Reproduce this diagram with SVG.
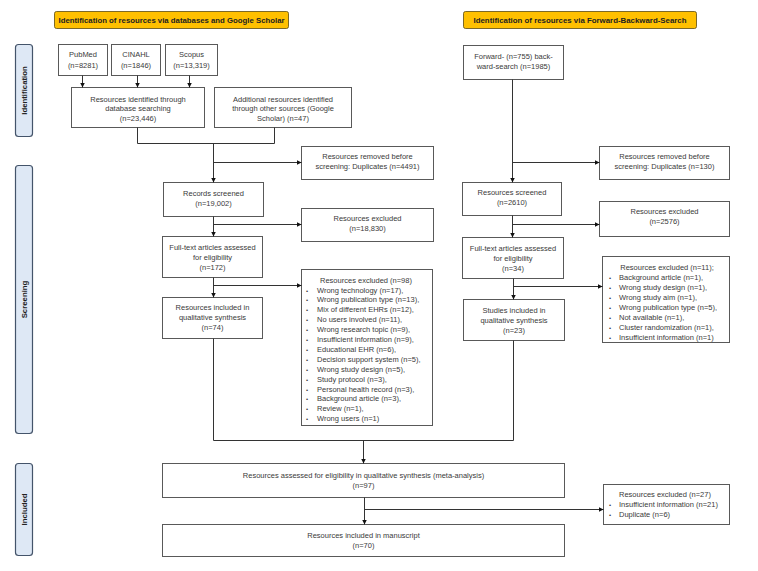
<svg xmlns="http://www.w3.org/2000/svg" width="758" height="571" viewBox="0 0 758 571">
<style>
text{font-family:"Liberation Sans",Arial,sans-serif;font-size:7.5px;fill:#3a3a3a;}
.c{text-anchor:middle;}
.hdr{fill:#FFC000;stroke:#5a4a10;stroke-width:0.8;}
.hdrt{font-weight:bold;font-size:7.9px;fill:#222;text-anchor:middle;}
.side{fill:#DEE8F5;stroke:#44546A;stroke-width:1.2;}
.sidet{font-weight:bold;font-size:7.8px;fill:#222;text-anchor:middle;}
.box{fill:#fff;stroke:#595959;stroke-width:1;}
.ln{fill:none;stroke:#333;stroke-width:1;}
.ar{fill:none;stroke:#333;stroke-width:1;marker-end:url(#ah);}
.b{font-size:6px;}
</style>
<defs>
<marker id="ah" viewBox="0 0 6 6" refX="6" refY="3" markerWidth="5" markerHeight="5" markerUnits="userSpaceOnUse" orient="auto">
<path d="M0,0 L6,3 L0,6 z" fill="#111"/>
</marker>
</defs>
<rect width="758" height="571" fill="#fff"/>

<g id="header-left"><rect class="hdr" x="54.5" y="11.5" width="234" height="17" rx="2"/><text class="hdrt" x="171.5" y="23" textLength="226" lengthAdjust="spacingAndGlyphs">Identification of resources via databases and Google Scholar</text></g>
<g id="header-right"><rect class="hdr" x="463.5" y="11.5" width="233" height="17" rx="2"/><text class="hdrt" x="580" y="23" textLength="213" lengthAdjust="spacingAndGlyphs">Identification of resources via Forward-Backward-Search</text></g>

<g id="side-identification"><rect class="side" x="15.5" y="44.5" width="17" height="92" rx="3"/><text class="sidet" transform="translate(26.8,90.5) rotate(-90)">Identification</text></g>
<g id="side-screening"><rect class="side" x="15.5" y="165.5" width="17" height="268" rx="3"/><text class="sidet" transform="translate(26.8,299.5) rotate(-90)">Screening</text></g>
<g id="side-included"><rect class="side" x="15.5" y="463.5" width="17" height="92" rx="3"/><text class="sidet" transform="translate(26.8,509.5) rotate(-90)">Included</text></g>

<g id="pubmed"><rect class="box" x="58.5" y="44.5" width="49" height="31"/><text class="c" x="83" y="57">PubMed</text><text class="c" x="83" y="68">(n=8281)</text></g>
<g id="cinahl"><rect class="box" x="111.5" y="44.5" width="49" height="31"/><text class="c" x="136" y="57">CINAHL</text><text class="c" x="136" y="68">(n=1846)</text></g>
<g id="scopus"><rect class="box" x="165.5" y="44.5" width="52" height="31"/><text class="c" x="191.5" y="57">Scopus</text><text class="c" x="191.5" y="68">(n=13,319)</text></g>
<g id="db-search"><rect class="box" x="71.5" y="87.5" width="133" height="40"/><text class="c" x="138" y="101.5">Resources identified through</text><text class="c" x="138" y="111">database searching</text><text class="c" x="138" y="121">(n=23,446)</text></g>
<g id="other-sources"><rect class="box" x="214.5" y="87.5" width="137" height="40"/><text class="c" x="283" y="101.5">Additional resources identified</text><text class="c" x="283" y="111">through other sources (Google</text><text class="c" x="283" y="121">Scholar) (n=47)</text></g>
<g id="fwd-bwd"><rect class="box" x="463.5" y="45.5" width="100" height="34"/><text class="c" x="513.5" y="58.5">Forward- (n=755) back-</text><text class="c" x="513.5" y="68.5">ward-search (n=1985)</text></g>

<g id="records-screened"><rect class="box" x="163.5" y="182.5" width="100" height="34"/><text class="c" x="213.5" y="195.5">Records screened</text><text class="c" x="213.5" y="205.5">(n=19,002)</text></g>
<g id="removed-left"><rect class="box" x="301.5" y="146.5" width="132" height="33"/><text class="c" x="367.5" y="158.5">Resources removed before</text><text class="c" x="367.5" y="168.5">screening: Duplicates (n=4491)</text></g>
<g id="excluded-left"><rect class="box" x="301.5" y="208.5" width="132" height="33"/><text class="c" x="367.5" y="220.5">Resources excluded</text><text class="c" x="367.5" y="231">(n=18,830)</text></g>
<g id="fulltext-left"><rect class="box" x="162.5" y="236.5" width="100" height="41"/><text class="c" x="212.5" y="249.5">Full-text articles assessed</text><text class="c" x="212.5" y="259.5">for eligibility</text><text class="c" x="212.5" y="269.5">(n=172)</text></g>
<g id="included-left"><rect class="box" x="162.5" y="297.5" width="100" height="41"/><text class="c" x="212.5" y="309.5">Resources included in</text><text class="c" x="212.5" y="319.5">qualitative synthesis</text><text class="c" x="212.5" y="329.5">(n=74)</text></g>
<g id="excluded-list-left"><rect class="box" x="301.5" y="269.5" width="131" height="156"/>
<text class="c" x="366" y="282.5">Resources excluded (n=98)</text>
<text class="b" x="306" y="292.5">•</text><text x="317" y="292.5">Wrong technology (n=17),</text>
<text class="b" x="306" y="302.4">•</text><text x="317" y="302.4">Wrong publication type (n=13),</text>
<text class="b" x="306" y="312.3">•</text><text x="317" y="312.3">Mix of different EHRs (n=12),</text>
<text class="b" x="306" y="322.2">•</text><text x="317" y="322.2">No users involved (n=11),</text>
<text class="b" x="306" y="332.1">•</text><text x="317" y="332.1">Wrong research topic (n=9),</text>
<text class="b" x="306" y="342">•</text><text x="317" y="342">Insufficient information (n=9),</text>
<text class="b" x="306" y="351.9">•</text><text x="317" y="351.9">Educational EHR (n=6),</text>
<text class="b" x="306" y="361.8">•</text><text x="317" y="361.8">Decision support system (n=5),</text>
<text class="b" x="306" y="371.7">•</text><text x="317" y="371.7">Wrong study design (n=5),</text>
<text class="b" x="306" y="381.6">•</text><text x="317" y="381.6">Study protocol (n=3),</text>
<text class="b" x="306" y="391.5">•</text><text x="317" y="391.5">Personal health record (n=3),</text>
<text class="b" x="306" y="401.4">•</text><text x="317" y="401.4">Background article (n=3),</text>
<text class="b" x="306" y="411.3">•</text><text x="317" y="411.3">Review (n=1),</text>
<text class="b" x="306" y="421.2">•</text><text x="317" y="421.2">Wrong users (n=1)</text>
</g>

<g id="resources-screened"><rect class="box" x="462.5" y="182.5" width="99" height="33"/><text class="c" x="512" y="194.5">Resources screened</text><text class="c" x="512" y="205">(n=2610)</text></g>
<g id="removed-right"><rect class="box" x="599.5" y="146.5" width="130" height="33"/><text class="c" x="664.5" y="158.5">Resources removed before</text><text class="c" x="664.5" y="168.5">screening: Duplicates (n=130)</text></g>
<g id="excluded-right"><rect class="box" x="599.5" y="201.5" width="130" height="35"/><text class="c" x="664.5" y="213.5">Resources excluded</text><text class="c" x="664.5" y="223.5">(n=2576)</text></g>
<g id="fulltext-right"><rect class="box" x="462.5" y="237.5" width="101" height="41"/><text class="c" x="513" y="250.5">Full-text articles assessed</text><text class="c" x="513" y="260.5">for eligibility</text><text class="c" x="513" y="270.5">(n=34)</text></g>
<g id="studies-included-right"><rect class="box" x="463.5" y="299.5" width="101" height="41"/><text class="c" x="514" y="312.5">Studies included in</text><text class="c" x="514" y="322.5">qualitative synthesis</text><text class="c" x="514" y="332.5">(n=23)</text></g>
<g id="excluded-list-right"><rect class="box" x="602.5" y="256.5" width="127" height="86"/>
<text class="c" x="667" y="269.5">Resources excluded (n=11);</text>
<text class="b" x="609" y="279.5">•</text><text x="619" y="279.5">Background article (n=1),</text>
<text class="b" x="609" y="289.5">•</text><text x="619" y="289.5">Wrong study design (n=1),</text>
<text class="b" x="609" y="299.5">•</text><text x="619" y="299.5">Wrong study aim (n=1),</text>
<text class="b" x="609" y="309.5">•</text><text x="619" y="309.5">Wrong publication type (n=5),</text>
<text class="b" x="609" y="319.5">•</text><text x="619" y="319.5">Not available (n=1),</text>
<text class="b" x="609" y="329.5">•</text><text x="619" y="329.5">Cluster randomization (n=1),</text>
<text class="b" x="609" y="339.5">•</text><text x="619" y="339.5">Insufficient information (n=1)</text>
</g>

<g id="assessed-meta"><rect class="box" x="162.5" y="463.5" width="402" height="34"/><text class="c" x="363.5" y="477.5">Resources assessed for eligibility in qualitative synthesis (meta-analysis)</text><text class="c" x="363.5" y="487.5">(n=97)</text></g>
<g id="included-manuscript"><rect class="box" x="162.5" y="524.5" width="402" height="32"/><text class="c" x="363.5" y="537.5">Resources included in manuscript</text><text class="c" x="363.5" y="547.5">(n=70)</text></g>
<g id="excluded-final"><rect class="box" x="603.5" y="484.5" width="126" height="40"/>
<text x="619" y="496.5">Resources excluded (n=27)</text>
<text class="b" x="609" y="506.5">•</text><text x="619" y="506.5">Insufficient information (n=21)</text>
<text class="b" x="609" y="516.5">•</text><text x="619" y="516.5">Duplicate (n=6)</text>
</g>

<g id="connectors">
<line class="ar" x1="82.5" y1="75.5" x2="82.5" y2="87.5"/>
<line class="ar" x1="137.5" y1="75.5" x2="137.5" y2="87.5"/>
<line class="ar" x1="189.5" y1="75.5" x2="189.5" y2="87.5"/>
<polyline class="ln" points="137.5,127.5 137.5,143.5 274.5,143.5 274.5,127.5"/>
<line class="ar" x1="213.5" y1="143.5" x2="213.5" y2="182.5"/>
<line class="ar" x1="213.5" y1="162.5" x2="301.5" y2="162.5"/>
<line class="ar" x1="213.5" y1="216.5" x2="213.5" y2="236.5"/>
<line class="ar" x1="213.5" y1="224.5" x2="301.5" y2="224.5"/>
<line class="ar" x1="213.5" y1="277.5" x2="213.5" y2="297.5"/>
<line class="ar" x1="213.5" y1="285.5" x2="301.5" y2="285.5"/>
<polyline class="ln" points="213.5,338.5 213.5,440.5 513.5,440.5 513.5,340.5"/>
<line class="ar" x1="363.5" y1="440.5" x2="363.5" y2="463.5"/>
<line class="ar" x1="364.5" y1="497.5" x2="364.5" y2="524.5"/>
<line class="ar" x1="364.5" y1="509.5" x2="603.5" y2="509.5"/>
<line class="ar" x1="512.5" y1="79.5" x2="512.5" y2="182.5"/>
<line class="ar" x1="512.5" y1="162.5" x2="599.5" y2="162.5"/>
<line class="ar" x1="512.5" y1="215.5" x2="512.5" y2="237.5"/>
<line class="ar" x1="512.5" y1="224.5" x2="599.5" y2="224.5"/>
<line class="ar" x1="513.5" y1="278.5" x2="513.5" y2="299.5"/>
<line class="ar" x1="513.5" y1="286.5" x2="602.5" y2="286.5"/>
</g>
</svg>
